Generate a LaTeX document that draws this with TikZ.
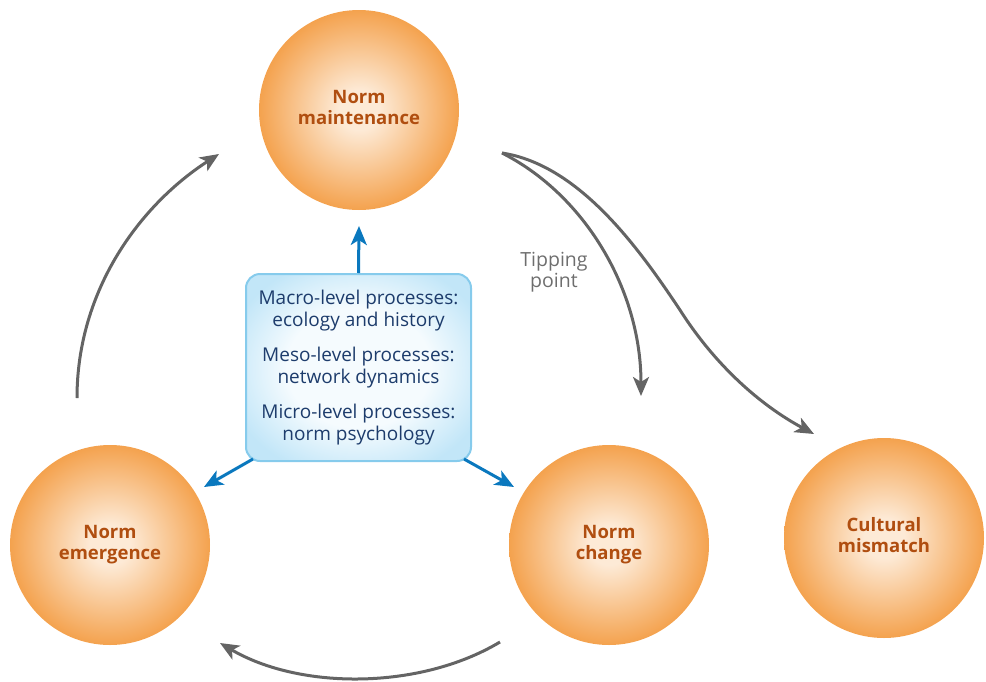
\documentclass[tikz,border=0pt]{standalone}
\usepackage{fontspec}
\setmainfont{Open Sans}
\usetikzlibrary{arrows.meta}
\definecolor{orangeE}{HTML}{F4A24E}
\definecolor{orangeC}{HTML}{FDEAD6}
\definecolor{labelC}{HTML}{B04E10}
\definecolor{boxE}{HTML}{C2E6F8}
\definecolor{boxC}{HTML}{F5FBFE}
\definecolor{boxB}{HTML}{86CBEC}
\definecolor{boxT}{HTML}{1D3C6C}
\definecolor{blueA}{HTML}{0A78BE}
\definecolor{grayA}{HTML}{646464}
\definecolor{grayT}{HTML}{6E6E6E}
\pgfdeclareradialshading{normball}{\pgfpoint{0bp}{0bp}}{color(0bp)=(orangeC); color(5bp)=(orangeC); color(25bp)=(orangeE); color(50bp)=(orangeE)}
\pgfdeclareradialshading{boxsh}{\pgfpoint{0bp}{0bp}}{color(0bp)=(boxC); color(16bp)=(boxC); color(30bp)=(boxE); color(50bp)=(boxE)}
\tikzset{
  normcircle/.style={circle, minimum size=200pt, inner sep=0pt, shading=normball,
    align=center, text=labelC, font=\bfseries\fontsize{18.5}{21}\selectfont},
  procbox/.style={rounded corners=14pt, draw=boxB, line width=2pt, shading=boxsh,
    minimum width=225pt, minimum height=187pt, align=center, text=boxT,
    font=\fontsize{19}{22}\selectfont},
  grayarrow/.style={draw=grayA, line width=3pt, -{Stealth[length=19pt,width=16pt,inset=5pt]}},
  bluearrow/.style={draw=blueA, line width=3pt, -{Stealth[length=19pt,width=16pt,inset=5pt]}},
  tiplabel/.style={align=center, text=grayT, font=\fontsize{19.5}{21}\selectfont}
}
\begin{document}
\begin{tikzpicture}[x=1pt,y=-1pt]
\useasboundingbox (0,0) rectangle (986,681);
\node[normcircle] (maint) at (359,110) {Norm\strut\\maintenance\strut};
\node[normcircle] (emerg) at (110,545) {Norm\strut\\emergence\strut};
\node[normcircle] (change) at (609,545) {Norm\strut\\change\strut};
\node[normcircle] (mismatch) at (884,538) {Cultural\strut\\mismatch\strut};
\node[procbox] (box) at (358.5,367.5) {Macro-level processes:\\ecology and history\\[13pt]Meso-level processes:\\network dynamics\\[13pt]Micro-level processes:\\norm psychology};
\node[tiplabel] (tip) at (554,272) {Tipping\\point};
% free ends
\coordinate (upEnd) at (359,226);
\coordinate (leftEnd) at (204,487);
\coordinate (rightEnd) at (514,487);
\coordinate (eStart) at (77,398);
\coordinate (eEnd) at (219,154);
\coordinate (cStart) at (500,642);
\coordinate (cEnd) at (220,643);
\coordinate (mStart) at (502,153);
\coordinate (tEnd) at (641,396);
\coordinate (kink) at (680,310);
\coordinate (xEnd) at (814,434);
% blue arrows
\draw[bluearrow] (box.north) -- (upEnd);
\draw[bluearrow] ([shift={(8,-3)}]box.south west) -- (leftEnd);
\draw[bluearrow] ([shift={(-8,-3)}]box.south east) -- (rightEnd);
% gray arrows
\draw[grayarrow] (eStart) .. controls (77,290) and (140,205) .. (eEnd);
\draw[grayarrow] (cStart) .. controls (420,690) and (300,690) .. (cEnd);
\draw[grayarrow] (mStart) .. controls (585,195) and (641,290) .. (tEnd);
\draw[grayarrow] (mStart) .. controls (580,165) and (640,250) .. (kink) .. controls (715,365) and (760,405) .. (xEnd);
\end{tikzpicture}
\end{document}
